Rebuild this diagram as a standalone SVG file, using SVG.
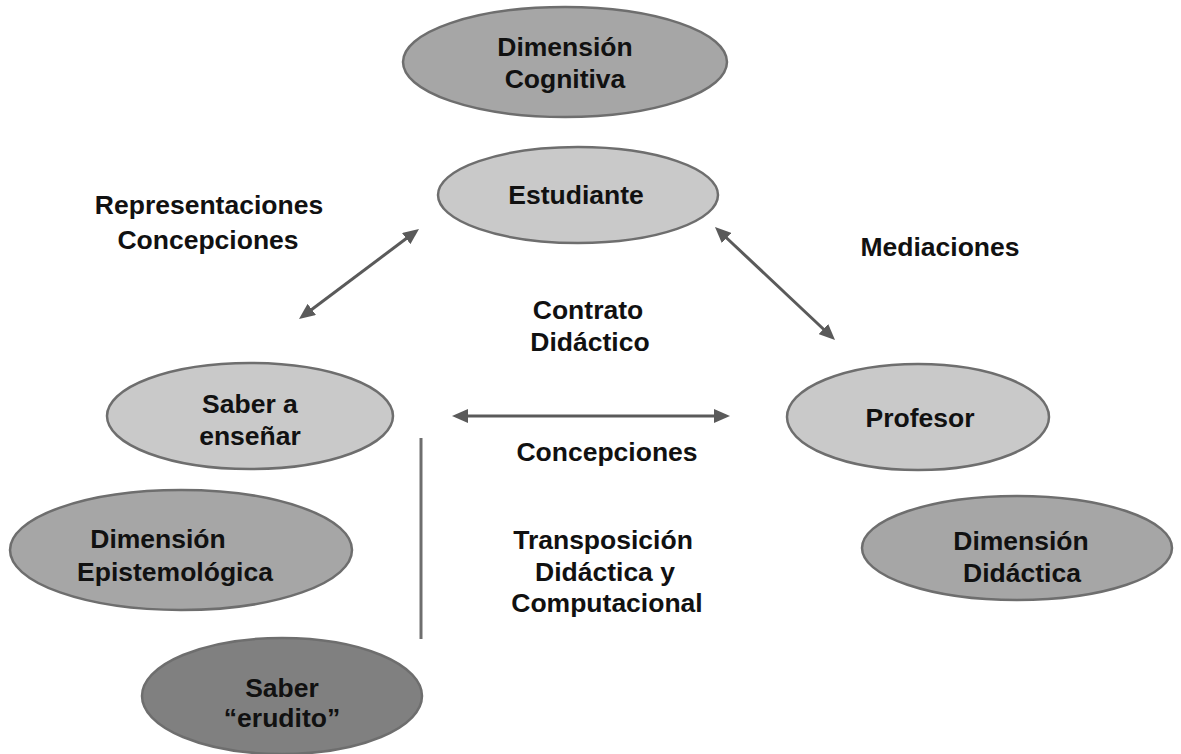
<svg xmlns="http://www.w3.org/2000/svg" width="1181" height="754" viewBox="0 0 1181 754">
<defs>
<style>
.t{font-family:"Liberation Sans",Arial,sans-serif;font-weight:bold;font-size:26.5px;fill:#111;text-anchor:middle}
.n{stroke:#6e6e6e;stroke-width:2.5}
.light{fill:#c9c9c9}
.mid{fill:#a6a6a6}
.dark{fill:#808080}
.c{stroke:#5a5a5a;stroke-width:3;fill:none}
</style>
<marker id="ah" viewBox="0 0 16 14" refX="8" refY="7" markerWidth="16" markerHeight="14" markerUnits="userSpaceOnUse" orient="auto-start-reverse">
<path d="M0,0 L16,7 L0,14 z" fill="#5a5a5a"/>
</marker>
</defs>
<rect width="1181" height="754" fill="#fff"/>
<g id="dim-cognitiva">
<ellipse class="n mid" cx="565" cy="62" rx="162" ry="55"/>
<text class="t" x="565" y="56">Dimensión</text>
<text class="t" x="565" y="88">Cognitiva</text>
</g>
<g id="estudiante">
<ellipse class="n light" cx="578" cy="195" rx="140" ry="48"/>
<text class="t" x="576" y="204">Estudiante</text>
</g>
<g id="saber-ensenar">
<ellipse class="n light" cx="250" cy="416" rx="143" ry="53"/>
<text class="t" x="250" y="413">Saber a</text>
<text class="t" x="250" y="445">enseñar</text>
</g>
<g id="profesor">
<ellipse class="n light" cx="918" cy="417" rx="131" ry="53"/>
<text class="t" x="920" y="427">Profesor</text>
</g>
<g id="dim-epistemologica">
<ellipse class="n mid" cx="181" cy="550" rx="171" ry="60"/>
<text class="t" x="158" y="548">Dimensión</text>
<text class="t" x="175" y="581">Epistemológica</text>
</g>
<g id="dim-didactica">
<ellipse class="n mid" cx="1017" cy="548" rx="155" ry="52"/>
<text class="t" x="1021" y="550">Dimensión</text>
<text class="t" x="1022" y="582">Didáctica</text>
</g>
<g id="saber-erudito">
<ellipse class="n dark" cx="282" cy="696" rx="140" ry="58"/>
<text class="t" x="282" y="697">Saber</text>
<text class="t" x="282" y="727">“erudito”</text>
</g>
<g id="labels">
<text class="t" x="209" y="214">Representaciones</text>
<text class="t" x="208" y="249">Concepciones</text>
<text class="t" x="940" y="256">Mediaciones</text>
<text class="t" x="588" y="319">Contrato</text>
<text class="t" x="590" y="351">Didáctico</text>
<text class="t" x="607" y="461">Concepciones</text>
<text class="t" x="603" y="549">Transposición</text>
<text class="t" x="605" y="581">Didáctica y</text>
<text class="t" x="607" y="612">Computacional</text>
</g>
<g id="connectors">
<line class="c" x1="412.6" y1="233.8" x2="305.4" y2="314.2" marker-start="url(#ah)" marker-end="url(#ah)"/>
<line class="c" x1="720.8" y1="232.5" x2="829.2" y2="334.5" marker-start="url(#ah)" marker-end="url(#ah)"/>
<line class="c" x1="460" y1="416" x2="722" y2="416" marker-start="url(#ah)" marker-end="url(#ah)"/>
<line x1="421" y1="438" x2="421" y2="639" stroke="#6e6e6e" stroke-width="3"/>
</g>
</svg>
